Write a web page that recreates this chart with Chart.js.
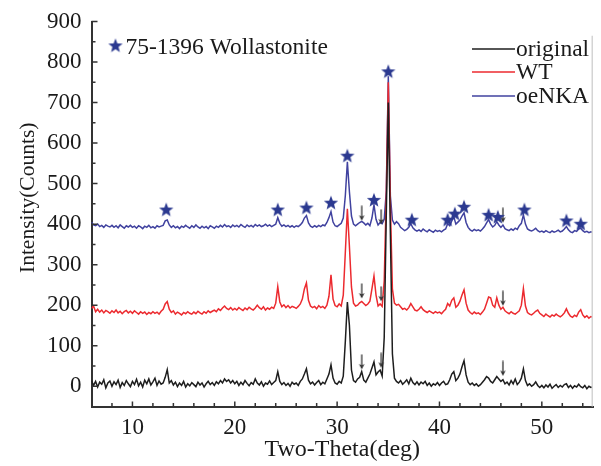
<!DOCTYPE html>
<html><head><meta charset="utf-8">
<script src="https://cdn.jsdelivr.net/npm/chart.js@4.4.0/dist/chart.umd.min.js"></script>
<style>html,body{margin:0;padding:0;background:#fff;}#wrap{width:601px;height:466px;}</style>
</head><body><div id="wrap"><canvas id="c" width="601" height="466"></canvas></div>
<script>
const twoTheta = [
6.0,6.2,6.4,6.6,6.8,7.0,7.2,7.4,7.6,7.8,
8.0,8.2,8.4,8.6,8.8,9.0,9.2,9.4,9.6,9.8,
10.0,10.2,10.4,10.6,10.8,11.0,11.2,11.4,11.6,11.8,
12.0,12.2,12.4,12.6,12.8,13.0,13.2,13.4,13.6,13.8,
14.0,14.2,14.4,14.6,14.8,15.0,15.2,15.4,15.6,15.8,
16.0,16.2,16.4,16.6,16.8,17.0,17.2,17.4,17.6,17.8,
18.0,18.2,18.4,18.6,18.8,19.0,19.2,19.4,19.6,19.8,
20.0,20.2,20.4,20.6,20.8,21.0,21.2,21.4,21.6,21.8,
22.0,22.2,22.4,22.6,22.8,23.0,23.2,23.4,23.6,23.8,
24.0,24.2,24.4,24.6,24.8,25.0,25.2,25.4,25.6,25.8,
26.0,26.2,26.4,26.6,26.8,27.0,27.2,27.4,27.6,27.8,
28.0,28.2,28.4,28.6,28.8,29.0,29.2,29.4,29.6,29.8,
30.0,30.2,30.4,30.6,30.8,31.0,31.2,31.4,31.6,31.8,
32.0,32.2,32.4,32.6,32.8,33.0,33.2,33.4,33.6,33.8,
34.0,34.2,34.4,34.6,34.8,35.0,35.2,35.4,35.6,35.8,
36.0,36.2,36.4,36.6,36.8,37.0,37.2,37.4,37.6,37.8,
38.0,38.2,38.4,38.6,38.8,39.0,39.2,39.4,39.6,39.8,
40.0,40.2,40.4,40.6,40.8,41.0,41.2,41.4,41.6,41.8,
42.0,42.2,42.4,42.6,42.8,43.0,43.2,43.4,43.6,43.8,
44.0,44.2,44.4,44.6,44.8,45.0,45.2,45.4,45.6,45.8,
46.0,46.2,46.4,46.6,46.8,47.0,47.2,47.4,47.6,47.8,
48.0,48.2,48.4,48.6,48.8,49.0,49.2,49.4,49.6,49.8,
50.0,50.2,50.4,50.6,50.8,51.0,51.2,51.4,51.6,51.8,
52.0,52.2,52.4,52.6,52.8,53.0,53.2,53.4,53.6,53.8,
54.0,54.2,54.4,54.6,54.8,55.0];

const original = [
14,2,12,-2,10,5,16,-4,8,13,
0,11,4,15,-3,9,2,14,6,-1,
12,4,17,1,10,-2,15,6,18,3,
11,20,2,13,5,8,22,41,8,14,
3,10,-1,8,2,12,-2,6,1,9,
4,-1,10,3,8,-2,6,12,4,9,
2,11,6,14,8,18,12,16,8,14,
6,12,2,10,4,14,7,1,9,5,
18,8,3,11,0,8,5,13,4,9,
14,36,12,4,9,2,7,0,10,5,
8,2,12,18,30,43,15,6,10,3,
9,14,4,10,6,18,30,53,20,8,
5,12,8,25,110,208,150,40,14,10,
18,22,36,15,10,20,30,45,60,28,
35,40,25,120,420,700,380,80,20,12,
8,14,5,10,16,6,20,9,4,11,
3,10,6,12,2,8,0,6,3,9,
2,8,12,4,6,16,30,36,14,20,
30,48,63,28,10,4,8,2,6,0,
4,10,16,24,20,12,8,16,24,18,
12,16,6,10,3,14,6,18,4,10,
20,43,14,2,6,0,4,11,2,-3,
2,-4,3,-2,5,-5,0,4,-3,2,
-2,4,6,-3,2,-5,1,-2,5,-1,
-4,2,-6,0,-3,-2];

const wt = [
192,198,184,190,183,188,181,187,184,180,
186,182,188,181,185,179,184,187,181,185,
180,186,182,178,184,180,183,177,182,179,
184,180,183,178,185,190,203,209,190,182,
186,178,183,180,176,182,179,184,180,178,
183,179,185,181,178,184,180,186,182,185,
188,184,191,187,193,198,192,189,194,188,
192,188,194,190,187,193,189,195,191,188,
193,200,194,190,196,188,193,190,195,192,
205,246,208,196,201,194,199,193,197,195,
192,197,203,215,240,255,212,198,194,197,
191,199,194,197,192,200,222,275,215,199,
196,203,198,225,330,438,345,245,205,198,
200,206,209,204,199,203,210,240,272,225,
198,203,197,260,470,750,450,240,205,200,
202,196,190,192,188,194,204,196,188,186,
190,196,189,185,182,186,183,180,184,181,
183,179,185,190,204,198,212,218,195,200,
210,225,238,205,188,182,178,183,179,181,
177,183,190,205,220,218,200,195,218,200,
190,195,186,182,179,184,180,178,182,186,
200,241,198,182,178,176,180,185,188,180,
176,172,178,174,171,176,173,178,174,171,
175,181,191,180,173,170,175,172,183,189,
176,170,174,168,172,170];

const oeNKA = [
405,398,396,400,394,397,392,398,395,393,
397,392,396,391,398,394,390,396,393,397,
392,395,390,396,393,389,395,392,397,391,
394,390,396,393,395,397,408,410,398,392,
396,391,394,389,395,392,397,393,390,396,
392,398,393,390,395,391,394,389,396,393,
390,395,392,397,393,399,394,396,392,398,
394,397,393,399,395,392,398,394,397,393,
399,395,398,394,396,400,395,398,394,397,
400,416,402,395,398,394,397,393,396,392,
396,394,398,404,415,421,403,395,392,396,
393,397,394,398,396,404,416,431,405,396,
394,398,402,415,470,554,480,420,400,396,
400,404,407,403,398,402,396,415,448,412,
398,404,401,412,480,765,470,410,400,406,
401,392,388,384,387,392,401,391,386,383,
386,382,388,384,381,386,383,380,385,382,
384,381,385,388,401,396,408,418,400,405,
410,420,428,404,392,386,383,387,384,386,
383,388,394,403,411,400,393,397,406,398,
392,398,389,386,384,388,385,390,387,396,
402,423,400,388,385,383,386,390,384,381,
383,380,384,381,379,383,380,382,385,381,
383,388,394,386,381,379,384,382,388,390,
384,380,382,379,381,380];

const starX = [13.3,24.2,27.0,29.4,31.0,33.6,35.0,37.3,40.8,41.5,42.4,44.8,45.7,48.3,52.4,53.8];
const starY = [436,436,441,453,569,460,777,411,411,426,443,423,418,436,409,401];
const legendStarX = [8.34];
const legendStarY = [841];
const arrowX = [32.4,34.3,46.2];
const arrowBlueY = [427,418,422];
const arrowRedY = [235,228,217];
const arrowBlackY = [60,64,44];
const xTicks = [10,20,30,40,50];
const xMinor = [8,12,14,16,18,22,24,26,28,32,34,36,38,42,44,46,48,52,54];
const yTicks = [0,100,200,300,400,500,600,700,800,900];
const yMinor = [50,150,250,350,450,550,650,750,850];
const seriesNames = ['original','WT','oeNKA'];
const seriesColors = ['#1e1e1e','#ec2a2f','#40429f'];
const yTitleText = 'Intensity(Counts)';

const FONT = "'Liberation Serif', 'Times New Roman', serif";

function makeStar(){
  const c = document.createElement('canvas'); c.width = 16; c.height = 16;
  const g = c.getContext('2d');
  g.fillStyle = '#2b3990';
  g.beginPath();
  for (let i = 0; i < 10; i++) {
    const r = i % 2 === 0 ? 7.5 : 3.2;
    const a = -Math.PI/2 + i*Math.PI/5;
    const px = 8 + r*Math.cos(a), py = 8.6 + r*Math.sin(a);
    if (i === 0) g.moveTo(px, py); else g.lineTo(px, py);
  }
  g.closePath(); g.fill();
  return c;
}
function makeArrow(){
  const c = document.createElement('canvas'); c.width = 8; c.height = 16;
  const g = c.getContext('2d');
  g.strokeStyle = '#333'; g.lineWidth = 1.3;
  g.beginPath(); g.moveTo(4, 0.5); g.lineTo(4, 14); g.stroke();
  g.fillStyle = '#333';
  g.beginPath(); g.moveTo(1.2, 10); g.lineTo(4, 15.5); g.lineTo(6.8, 10); g.lineTo(4, 11.5); g.closePath(); g.fill();
  return c;
}
const starImg = makeStar();
const arrowImg = makeArrow();

const toXY = (xs, ys) => xs.map((x, i) => ({x: x, y: ys[i]}));

const decor = {
  id: 'decor',
  afterDraw(chart) {
    const ctx = chart.ctx, xs = chart.scales.x, ys = chart.scales.y, a = chart.chartArea;
    ctx.save();
    ctx.strokeStyle = '#d4d4d4'; ctx.lineWidth = 1.5;
    ctx.beginPath(); ctx.moveTo(a.right - 0.75, ys.getPixelForValue(865)); ctx.lineTo(a.right - 0.75, a.bottom); ctx.stroke();
    ctx.strokeStyle = '#333'; ctx.lineWidth = 1.5;
    ctx.beginPath();
    xTicks.forEach(v => { const p = xs.getPixelForValue(v); ctx.moveTo(p, a.bottom); ctx.lineTo(p, a.bottom - 5); });
    xMinor.forEach(v => { const p = xs.getPixelForValue(v); ctx.moveTo(p, a.bottom); ctx.lineTo(p, a.bottom - 3.5); });
    yTicks.forEach(v => { const p = ys.getPixelForValue(v); ctx.moveTo(a.left, p); ctx.lineTo(a.left + 6, p); });
    yMinor.forEach(v => { const p = ys.getPixelForValue(v); ctx.moveTo(a.left, p); ctx.lineTo(a.left + 4, p); });
    ctx.stroke();
    ctx.font = '23.5px ' + FONT; ctx.textBaseline = 'alphabetic'; ctx.textAlign = 'left';
    const lineY = [49, 72, 96];
    seriesNames.forEach((n, i) => {
      ctx.strokeStyle = seriesColors[i]; ctx.lineWidth = 1.6;
      ctx.beginPath(); ctx.moveTo(472, lineY[i]); ctx.lineTo(515, lineY[i]); ctx.stroke();
      ctx.fillStyle = '#1a1a1a';
      ctx.fillText(n, 516, lineY[i] + 6.5);
    });
    const sx = xs.getPixelForValue(legendStarX[0]) + 10;
    const sy = ys.getPixelForValue(legendStarY[0]);
    ctx.fillText('75-1396 Wollastonite', sx, sy + 9);
    // y-axis title
    ctx.translate(28, ys.getPixelForValue(465));
    ctx.rotate(-Math.PI / 2);
    ctx.font = '21.5px ' + FONT; ctx.textAlign = 'center'; ctx.textBaseline = 'middle';
    ctx.fillText(yTitleText, 0, 0);
    ctx.restore();
  }
};

function build(){
new Chart(document.getElementById('c'), {
  type: 'line',
  data: {
    datasets: [
      {label: 'stars', type: 'scatter', data: toXY(starX, starY), pointStyle: starImg, pointRadius: 7, order: 0},
      {label: 'legendStar', type: 'scatter', data: toXY(legendStarX, legendStarY), pointStyle: starImg, pointRadius: 7, order: 0},
      {label: 'arrowsBlue', type: 'scatter', data: toXY(arrowX, arrowBlueY), pointStyle: arrowImg, pointRadius: 7, order: 0},
      {label: 'arrowsRed', type: 'scatter', data: toXY(arrowX, arrowRedY), pointStyle: arrowImg, pointRadius: 7, order: 0},
      {label: 'arrowsBlack', type: 'scatter', data: toXY(arrowX, arrowBlackY), pointStyle: arrowImg, pointRadius: 7, order: 0},
      {label: seriesNames[0], data: toXY(twoTheta, original), borderColor: seriesColors[0], borderWidth: 1.5, pointRadius: 0, tension: 0, order: 1},
      {label: seriesNames[1], data: toXY(twoTheta, wt), borderColor: seriesColors[1], borderWidth: 1.5, pointRadius: 0, tension: 0, order: 2},
      {label: seriesNames[2], data: toXY(twoTheta, oeNKA), borderColor: seriesColors[2], borderWidth: 1.5, pointRadius: 0, tension: 0, order: 3}
    ]
  },
  options: {
    responsive: false, animation: false, devicePixelRatio: 1, events: [],
    layout: {padding: {left: 16, right: 7, top: 20, bottom: 4.5}},
    plugins: {legend: {display: false}, tooltip: {enabled: false}},
    scales: {
      x: {
        type: 'linear', min: 6, max: 55,
        afterBuildTicks: s => { s.ticks = xTicks.map(v => ({value: v})); },
        grid: {display: false, drawTicks: false},
        border: {display: true, color: '#333', width: 2},
        ticks: {color: '#1a1a1a', font: {family: FONT, size: 23, lineHeight: 1}, padding: 10, maxRotation: 0},
        title: {display: true, text: 'Two-Theta(deg)', color: '#1a1a1a', font: {family: FONT, size: 24, lineHeight: 1}, padding: {top: -12, bottom: 0}}
      },
      y: {
        type: 'linear', min: -50, max: 900,
        afterBuildTicks: s => { s.ticks = yTicks.map(v => ({value: v})); },
        grid: {display: false, drawTicks: false},
        border: {display: true, color: '#333', width: 2},
        ticks: {color: '#1a1a1a', font: {family: FONT, size: 23, lineHeight: 1}, padding: 10},
        title: {display: true, text: yTitleText, color: 'rgba(0,0,0,0)', font: {family: FONT, size: 24, lineHeight: 1}, padding: {top: 0, bottom: -3}}
      }
    }
  },
  plugins: [decor]
});
}
if (document.fonts && document.fonts.load) {
  Promise.all([document.fonts.load("23px 'Liberation Serif'"), document.fonts.load("24px 'Liberation Serif'")]).then(build, build);
} else { build(); }
</script></body></html>
